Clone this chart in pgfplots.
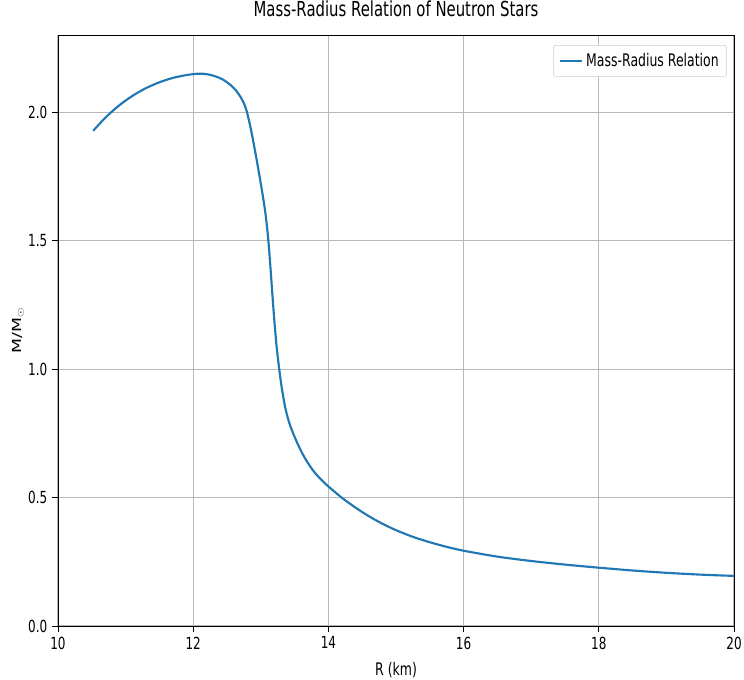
\documentclass[border=0pt]{standalone}
\usepackage{fontspec}
\setmainfont{DejaVu Sans}[FakeStretch=0.72]
\newfontfamily\plainfont{DejaVu Sans}
\usepackage{pgfplots}
\pgfplotsset{compat=1.18}
\definecolor{mplblue}{RGB}{31,119,180}
\begin{document}
\begin{tikzpicture}
\begin{axis}[
    scale only axis,
    width=507pt, height=443.25pt,
    xmin=10, xmax=20,
    ymin=0, ymax=2.3,
    xtick={10,12,14,16,18,20},
    ytick={0,0.5,1,1.5,2},
    yticklabel style={/pgf/number format/.cd,fixed,fixed zerofill,precision=1},
    /pgf/number format/assume math mode=true,
    tick align=outside, tick pos=left,
    major tick length=4.5pt,
    every tick/.style={black, line width=0.7pt},
    grid=major,
    grid style={color=black!28, line width=0.8pt},
    axis line style={line width=0.7pt},
    ticklabel style={font=\fontsize{12.5}{14}\selectfont},
    title={Mass-Radius Relation of Neutron Stars},
    title style={font=\fontsize{15.5}{18}\selectfont, at={(axis description cs:0.5,1.0305)}, anchor=center},
    xlabel={R (km)},
    xlabel style={at={(axis description cs:0.5,-0.061)}, anchor=north, inner sep=0pt},
    ylabel={\scalebox{1}[0.72]{\plainfont\fontsize{13}{15}\selectfont M/M$_\odot$}},
    ylabel style={at={(axis description cs:-0.059,0.5)}, anchor=center},
    label style={font=\fontsize{13}{15}\selectfont},
    legend style={at={(axis description cs:0.9896,0.983)}, anchor=north east, draw=black!20, rounded corners=2pt,
        font=\fontsize{13}{15}\selectfont, inner sep=4pt},
    legend cell align=left,
]
\addplot[mplblue, line width=1.6pt, smooth, tension=0.5] coordinates {
(10.52,1.927) (10.70,1.978) (10.90,2.025) (11.10,2.063) (11.30,2.093) (11.50,2.116)
(11.70,2.133) (11.90,2.144) (12.05,2.149) (12.15,2.149) (12.25,2.145) (12.35,2.137)
(12.45,2.125) (12.55,2.106) (12.63,2.085) (12.70,2.059) (12.75,2.034) (12.79,2.005)
(12.84,1.950) (12.90,1.870) (12.96,1.783) (13.02,1.690) (13.07,1.603) (13.11,1.505)
(13.14,1.405) (13.17,1.295) (13.20,1.190) (13.235,1.085) (13.27,1.005) (13.31,0.927)
(13.36,0.852) (13.41,0.800) (13.46,0.762) (13.51,0.730) (13.57,0.695) (13.63,0.664)
(13.70,0.633) (13.78,0.603) (13.88,0.573) (14.0,0.543) (14.2,0.499) (14.4,0.461)
(14.6,0.427) (14.8,0.398) (15.0,0.373) (15.25,0.347) (15.5,0.326) (15.75,0.308)
(16.0,0.293) (16.5,0.270) (17.0,0.253) (17.5,0.239) (18.0,0.227) (18.5,0.216)
(19.0,0.207) (19.5,0.200) (20.0,0.195)
};
\addlegendentry{Mass-Radius Relation}
\end{axis}
\pgfresetboundingbox
\path[use as bounding box] ([shift={(-43.5pt,-39.75pt)}]current axis.south west)
    rectangle ([shift={(7.5pt,26.25pt)}]current axis.north east);
\end{tikzpicture}
\end{document}
